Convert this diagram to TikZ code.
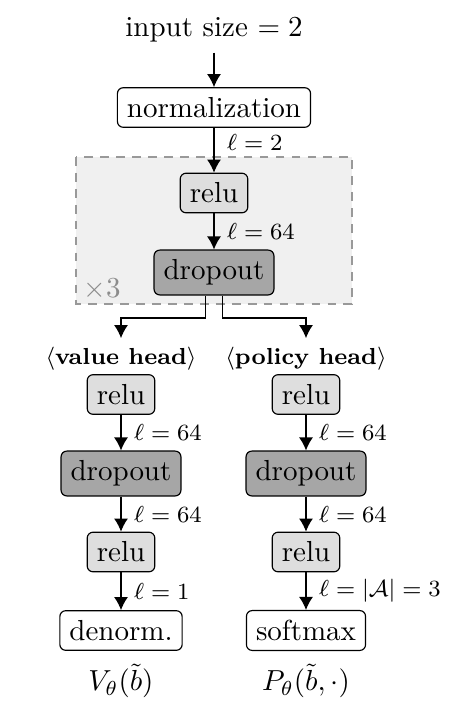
\documentclass[tikz,border=0pt]{standalone}
\usepackage{amsmath,amssymb}
\usetikzlibrary{arrows.meta}
\tikzset{
  layer/.style={draw, rounded corners=2pt, inner sep=3.3pt},
  relubox/.style={layer, fill=black!13},
  dropbox/.style={layer, fill=black!35},
  flow/.style={-{Latex[length=4.5pt,width=4.8pt]}},
  dim/.style={right, font=\footnotesize, xshift=1pt}
}
\begin{document}
\begin{tikzpicture}[x=0.345pt, y=-0.345pt]
		\useasboundingbox (0,0) rectangle (464,710);
		%Bloc répété
		\fill[black!6] (76,157) rectangle (352,304);
		\draw[black!40, dashed, dash pattern=on 3pt off 2.5pt] (76,157) rectangle (352,304);
		\node[black!45, anchor=south west, inner sep=0pt] (rep) at (83,300) {$\times3$};
		%Noeuds du tronc
		\node (input) at (214,30) {input size $=2$};
		\node[layer] (norm) at (214,107.5) {normalization};
		\node[relubox] (relu) at (214,193) {relu};
		\node[dropbox] (drop) at (214,272.5) {dropout};
		%Tête valeur
		\node[font=\footnotesize\bfseries, inner sep=1pt] (vhead) at (121,359) {$\langle$value head$\rangle$};
		\node[relubox] (vrelu1) at (121,394.5) {relu};
		\node[dropbox] (vdrop) at (121,473.5) {dropout};
		\node[relubox] (vrelu2) at (121,552) {relu};
		\node[layer] (denorm) at (121,630.5) {denorm.};
		\node[inner sep=1pt] (vout) at (121,681) {$V_\theta(\tilde{b})$};
		%Tête politique
		\node[font=\footnotesize\bfseries, inner sep=1pt] (phead) at (306,359) {$\langle$policy head$\rangle$};
		\node[relubox] (prelu1) at (306,394.5) {relu};
		\node[dropbox] (pdrop) at (306,473.5) {dropout};
		\node[relubox] (prelu2) at (306,552) {relu};
		\node[layer] (softmax) at (306,630.5) {softmax};
		\node[inner sep=1pt] (pout) at (306,681) {$P_\theta(\tilde{b},\cdot)$};
		%Flèches du tronc
		\draw[flow] (input) -- (norm);
		\draw[flow] (norm) -- (relu) node[dim, pos=0.32] {$\ell=2$};
		\draw[flow] (relu) -- (drop) node[dim, midway] {$\ell=64$};
		%Séparation
		\draw[flow] ([xshift=-2.8pt]drop.south) |- (121,318) -- ([yshift=2pt]vhead.north);
		\draw[flow] ([xshift=2.8pt]drop.south) |- (306,318) -- ([yshift=2pt]phead.north);
		%Flèches des têtes
		\draw[flow] (vrelu1) -- (vdrop) node[dim, midway] {$\ell=64$};
		\draw[flow] (vdrop) -- (vrelu2) node[dim, midway] {$\ell=64$};
		\draw[flow] (vrelu2) -- (denorm) node[dim, midway] {$\ell=1$};
		\draw[flow] (prelu1) -- (pdrop) node[dim, midway] {$\ell=64$};
		\draw[flow] (pdrop) -- (prelu2) node[dim, midway] {$\ell=64$};
		\draw[flow] (prelu2) -- (softmax) node[dim, midway] {$\ell=|\mathcal{A}|=3$};
	\end{tikzpicture}
\end{document}
